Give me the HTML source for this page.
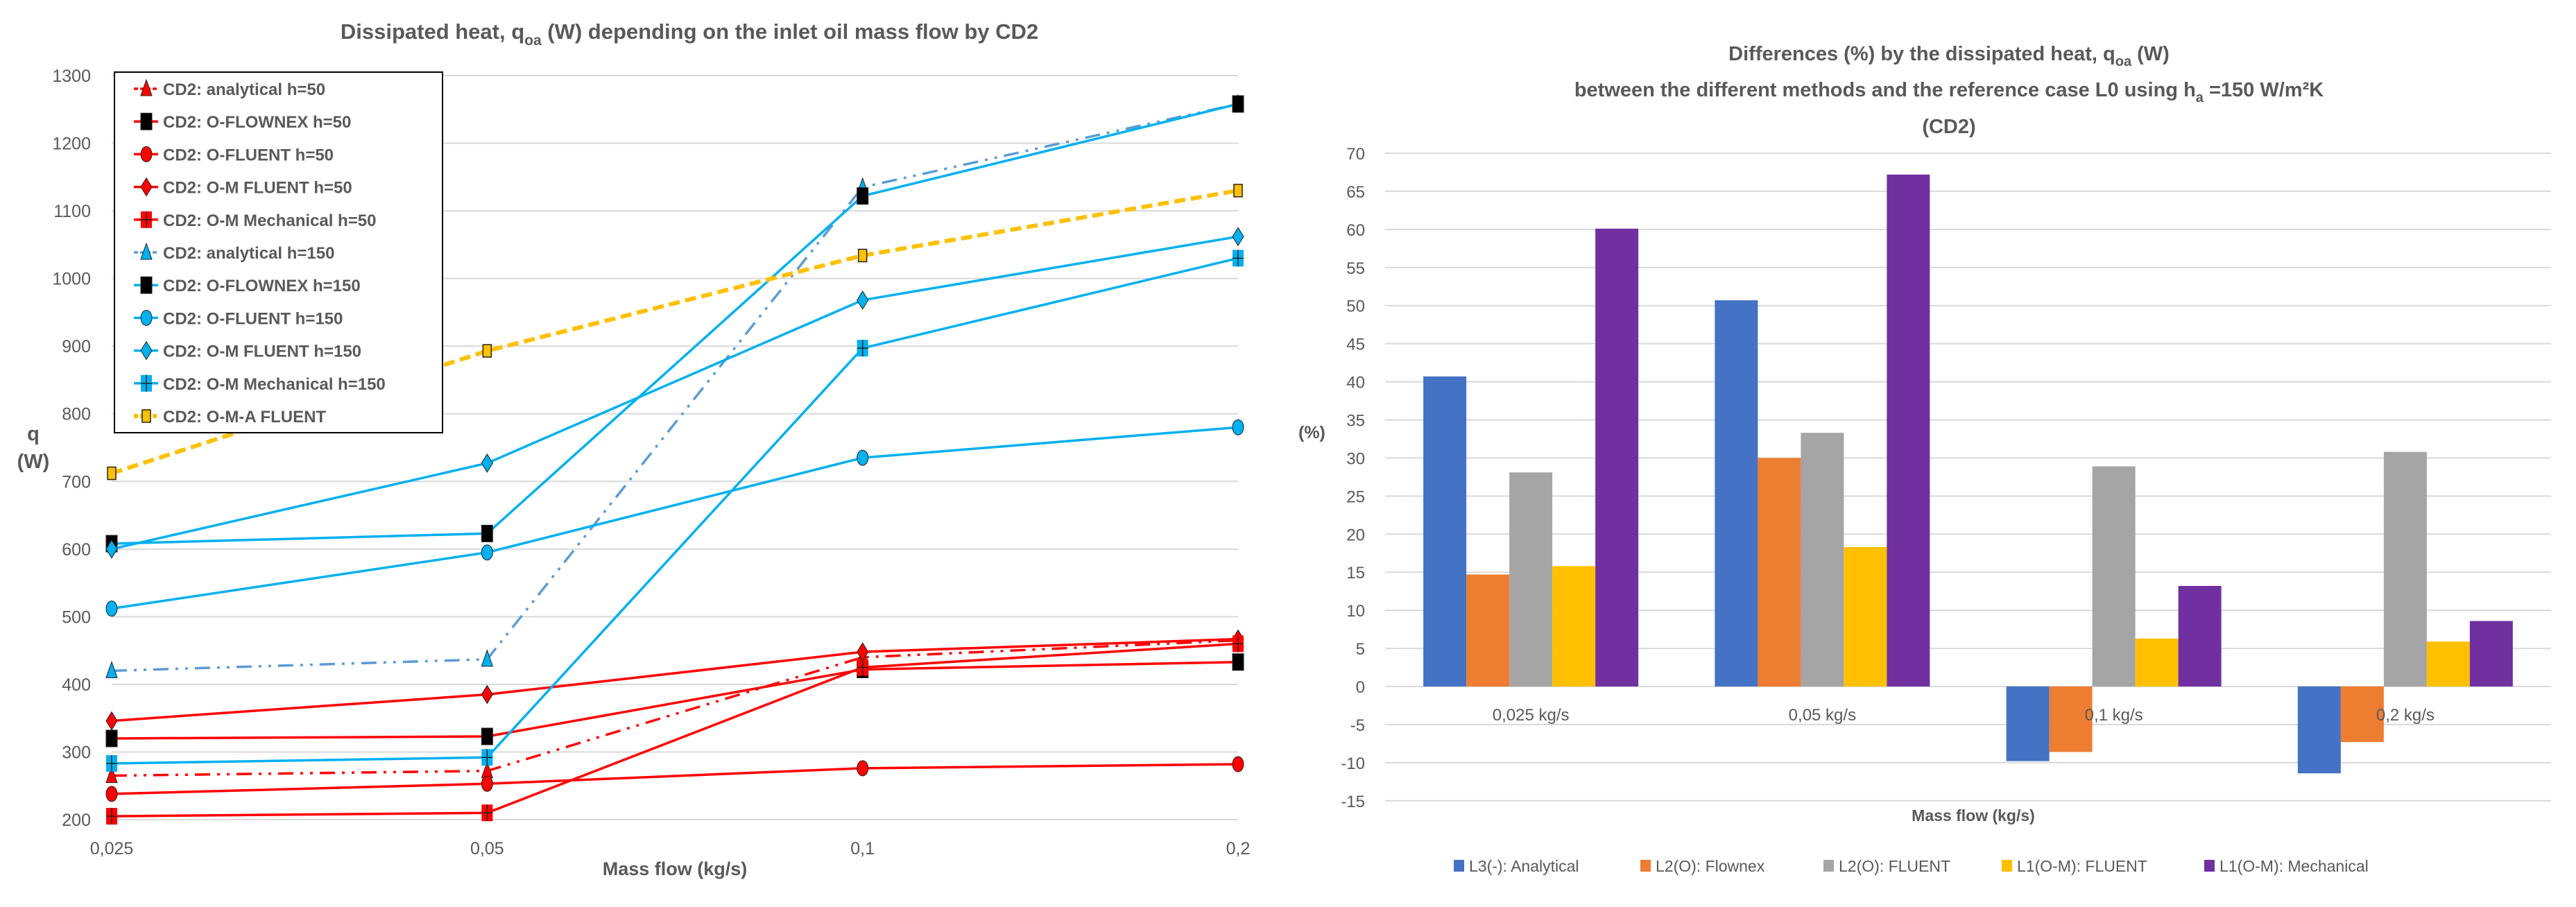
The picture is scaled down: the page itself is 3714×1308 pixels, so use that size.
<!DOCTYPE html>
<html><head><meta charset="utf-8">
<style>
html,body{margin:0;padding:0;background:#fff;}
svg{display:block;font-family:"Liberation Sans",sans-serif;}
</style></head>
<body>
<svg id="root" width="3714" height="1308" viewBox="0 0 3714 1308" xmlns="http://www.w3.org/2000/svg">
<rect width="3714" height="1308" fill="#fff"/>
<g id="left"></g>
<g id="right"></g>
</svg>
<script>
// ---------- Left chart data ----------
const lineCats = ["0,025","0,05","0,1","0,2"];
const lineTicks = [200,300,400,500,600,700,800,900,1000,1100,1200,1300];
const sAnal50 = [265,272,440,465];
const sFlow50 = [320,323,422,433];
const sFlu50 = [238,253,276,282];
const sOMF50 = [346,385,448,467];
const sOMM50 = [205,210,425,460];
const sAnal150 = [420,437,1135,1258];
const sFlow150 = [608,623,1122,1258];
const sFlu150 = [512,595,735,780];
const sOMF150 = [600,727,968,1062];
const sOMM150 = [283,292,897,1030];
const sOMA = [712,893,1034,1130];
const lineNames = ["CD2: analytical h=50","CD2: O-FLOWNEX h=50","CD2: O-FLUENT h=50","CD2: O-M FLUENT h=50","CD2: O-M Mechanical h=50","CD2: analytical h=150","CD2: O-FLOWNEX h=150","CD2: O-FLUENT h=150","CD2: O-M FLUENT h=150","CD2: O-M Mechanical h=150","CD2: O-M-A FLUENT"];

// ---------- Right chart data ----------
const barCats = ["0,025 kg/s","0,05 kg/s","0,1 kg/s","0,2 kg/s"];
const barTicks = [-15,-10,-5,0,5,10,15,20,25,30,35,40,45,50,55,60,65,70];
const bAnalytical = [40.7,50.7,-9.8,-11.4];
const bFlownex = [14.7,30.0,-8.6,-7.3];
const bFluent = [28.1,33.3,28.9,30.8];
const bOMFluent = [15.8,18.3,6.3,5.9];
const bOMMech = [60.1,67.2,13.2,8.6];
const barNames = ["L3(-): Analytical","L2(O): Flownex","L2(O): FLUENT","L1(O-M): FLUENT","L1(O-M): Mechanical"];

const NS="http://www.w3.org/2000/svg";
function mk(parent,tag,attrs,text){const e=document.createElementNS(NS,tag);for(const k in attrs)e.setAttribute(k,attrs[k]);if(text!==undefined)e.textContent=text;parent.appendChild(e);return e;}
const GRAY="#595959";

// ===== LEFT =====
const L=document.getElementById('left');
const lx0=161,lx1=1785,ly200=1182,ly1300=109;
const yL=v=>ly200+(v-200)*(ly1300-ly200)/1100;
const xL=i=>lx0+i*(lx1-lx0)/(lineCats.length-1);
lineTicks.forEach(t=>{
  const g=mk(L,'line',{x1:lx0,x2:lx1,y1:yL(t),y2:yL(t),stroke:'#d9d9d9','stroke-width':2});
  
  
  const tx=mk(L,'text',{x:131,y:yL(t)+9,'text-anchor':'end','font-size':25,fill:GRAY},String(t));
  
  
});
lineCats.forEach((c,i)=>{
  const tx=mk(L,'text',{x:xL(i),y:1232,'text-anchor':'middle','font-size':25,fill:GRAY},c);
  
  
});
let t=mk(L,'text',{x:973,y:1262,'text-anchor':'middle','font-size':27,'font-weight':'bold',fill:GRAY},'Mass flow (kg/s)');

t=mk(L,'text',{x:48,y:635,'text-anchor':'middle','font-size':29,'font-weight':'bold',fill:GRAY},'q');

t=mk(L,'text',{x:48,y:675,'text-anchor':'middle','font-size':29,'font-weight':'bold',fill:GRAY},'(W)');

t=mk(L,'text',{x:994,y:56,'text-anchor':'middle','font-size':31,'font-weight':'bold',fill:GRAY});

t.innerHTML='Dissipated heat, q<tspan font-size="21" dy="9">oa</tspan><tspan dy="-9"> (W) depending on the inlet oil mass flow by CD2</tspan>';

const RED="#ff0000",BLUE="#00b0f0",LBLUE="#5b9bd5",YEL="#ffc000";
const lineSeries=[
 {d:sAnal50,c:RED,dash:'22 10 4 10 4 10',m:'tri',mf:RED},
 {d:sFlow50,c:RED,dash:'',m:'sq',mf:'#000'},
 {d:sFlu50,c:RED,dash:'',m:'circ',mf:RED},
 {d:sOMF50,c:RED,dash:'',m:'dia',mf:RED},
 {d:sOMM50,c:RED,dash:'',m:'plus',mf:RED},
 {d:sAnal150,c:LBLUE,dash:'22 10 4 10 4 10',m:'tri',mf:BLUE},
 {d:sFlow150,c:BLUE,dash:'',m:'sq',mf:'#000'},
 {d:sFlu150,c:BLUE,dash:'',m:'circ',mf:BLUE},
 {d:sOMF150,c:BLUE,dash:'',m:'dia',mf:BLUE},
 {d:sOMM150,c:BLUE,dash:'',m:'plus',mf:BLUE},
 {d:sOMA,c:YEL,dash:'16 8',m:'sqs',mf:YEL,w:6}
];
function marker(p,type,x,y,fill){
  let e;
  if(type==='tri') e=mk(p,'polygon',{points:`${x},${y-13} ${x-8},${y+10} ${x+8},${y+10}`,fill:fill,stroke:'#222','stroke-width':1});
  else if(type==='sq') e=mk(p,'rect',{x:x-8,y:y-12,width:16,height:24,fill:fill,stroke:'#222','stroke-width':1});
  else if(type==='sqs') e=mk(p,'rect',{x:x-6,y:y-9,width:12,height:18,fill:fill,stroke:'#222','stroke-width':1.5});
  else if(type==='circ') e=mk(p,'ellipse',{cx:x,cy:y,rx:8,ry:11,fill:fill,stroke:'#222','stroke-width':1});
  else if(type==='dia') e=mk(p,'polygon',{points:`${x},${y-13} ${x+8},${y} ${x},${y+13} ${x-8},${y}`,fill:fill,stroke:'#222','stroke-width':1});
  else { e=mk(p,'g',{});
    mk(e,'rect',{x:x-8,y:y-12,width:16,height:24,fill:fill});
    mk(e,'line',{x1:x-8,x2:x+8,y1:y,y2:y,stroke:'#222','stroke-width':1.5});
    mk(e,'line',{x1:x,x2:x,y1:y-12,y2:y+12,stroke:'#222','stroke-width':1.5});
  }
  return e;
}
lineSeries.forEach((s,si)=>{
  const g=mk(L,'g',{});
  
  
  const pts=s.d.map((v,i)=>xL(i)+','+yL(v)).join(' ');
  const pl=mk(g,'polyline',{points:pts,fill:'none',stroke:s.c,'stroke-width':s.w||3.5,'stroke-dasharray':s.dash});
  
  
  s.d.forEach((v,i)=>{
    const m=marker(g,s.m,xL(i),yL(v),s.mf);
    
    
  });
});
// legend
const lg=mk(L,'g',{});


mk(lg,'rect',{x:165,y:104,width:473,height:520,fill:'#fff',stroke:'#000','stroke-width':2});
lineSeries.forEach((s,si)=>{
  const y=128+si*47.2;
  const eg=mk(lg,'g',{});
  
  
  mk(eg,'line',{x1:193,x2:228,y1:y,y2:y,stroke:s.c,'stroke-width':s.w||3.5,'stroke-dasharray':s.dash?'6 3':''});
  marker(eg,s.m,211,y,s.mf);
  mk(eg,'text',{x:235,y:y+9,'font-size':24,'font-weight':'bold',fill:GRAY},lineNames[si]);
});

// ===== RIGHT =====
const R=document.getElementById('right');
const rx0=1997,rx1=3678,ry0=990,per=(990-221)/70;
const yR=v=>ry0-v*per;
barTicks.forEach(tk=>{
  const g=mk(R,'line',{x1:rx0,x2:rx1,y1:yR(tk),y2:yR(tk),stroke:'#d9d9d9','stroke-width':2});
  
  
  const tx=mk(R,'text',{x:1968,y:yR(tk)+9,'text-anchor':'end','font-size':24,fill:GRAY},String(tk));
  
  
});
const barSeries=[bAnalytical,bFlownex,bFluent,bOMFluent,bOMMech];
const barColors=["#4472c4","#ed7d31","#a5a5a5","#ffc000","#7030a0"];
const gw=(rx1-rx0)/barCats.length, bw=62;
barSeries.forEach((arr,si)=>{
  arr.forEach((v,ci)=>{
    const x=rx0+ci*gw+(gw-5*bw)/2+si*bw;
    const y=Math.min(yR(v),ry0), h=Math.abs(yR(v)-ry0);
    const r=mk(R,'rect',{x:x,y:y,width:bw,height:h,fill:barColors[si]});
    
    
  });
});
barCats.forEach((c,ci)=>{
  const tx=mk(R,'text',{x:rx0+ci*gw+gw/2,y:1039,'text-anchor':'middle','font-size':24,fill:GRAY},c);
  
  
});
t=mk(R,'text',{x:2845,y:1184,'text-anchor':'middle','font-size':23,'font-weight':'bold',fill:GRAY},'Mass flow (kg/s)');

t=mk(R,'text',{x:1872,y:632,'font-size':25,'font-weight':'bold',fill:GRAY},'(%)');

t=mk(R,'text',{x:2810,y:87,'text-anchor':'middle','font-size':29,'font-weight':'bold',fill:GRAY});

t.innerHTML='Differences (%) by the dissipated heat, q<tspan font-size="20" dy="8">oa</tspan><tspan dy="-8"> (W)</tspan>';
t=mk(R,'text',{x:2810,y:139,'text-anchor':'middle','font-size':29,'font-weight':'bold',fill:GRAY});

t.innerHTML='between the different methods and the reference case L0  using h<tspan font-size="20" dy="8">a</tspan><tspan dy="-8"> =150 W/m²K</tspan>';
t=mk(R,'text',{x:2810,y:192,'text-anchor':'middle','font-size':29,'font-weight':'bold',fill:GRAY},'(CD2)');

const lxs=[2096,2365,2629,2886,3178];
const rl=mk(R,'g',{});


barNames.forEach((n,i)=>{
  const eg=mk(rl,'g',{});
  
  
  mk(eg,'rect',{x:lxs[i],y:1240,width:15,height:17,fill:barColors[i]});
  mk(eg,'text',{x:lxs[i]+22,y:1257,'font-size':23,fill:GRAY},n);
});
</script>
</body></html>
